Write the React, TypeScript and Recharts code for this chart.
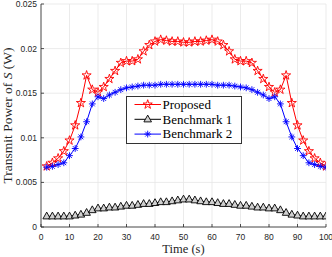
import React from 'react';
import { LineChart, Line, XAxis, YAxis, CartesianGrid } from 'recharts';

const times = [2,4,6,8,10,12,14,16,18,20,22,24,26,28,30,32,34,36,38,40,42,44,46,48,50,52,54,56,58,60,62,64,66,68,70,72,74,76,78,80,82,84,86,88,90,92,94,96,98,100];

const proposed = [0.0068,0.0072,0.0077,0.0085,0.0097,0.0114,0.0139,0.0170,0.0154,0.0151,0.0157,0.0166,0.0175,0.0184,0.0186,0.0186,0.0188,0.0197,0.0204,0.0208,0.0210,0.0209,0.0208,0.0208,0.0207,
0.0207,0.0208,0.0208,0.0209,0.0210,0.0208,0.0204,0.0197,0.0188,0.0186,0.0186,0.0184,0.0175,0.0166,0.0157,0.0151,0.0154,0.0170,0.0139,0.0114,0.0097,0.0085,0.0077,0.0072,0.0068];

const benchmark1 = [0.0012,0.0012,0.0012,0.0012,0.0012,0.0013,0.0014,0.0016,0.0019,0.0021,0.0021,0.0022,0.0022,0.0023,0.0024,0.0024,0.0025,0.0026,0.0026,0.0027,0.0028,0.0028,0.0029,0.0030,0.0031,
0.0031,0.0030,0.0029,0.0028,0.0028,0.0027,0.0026,0.0026,0.0025,0.0024,0.0024,0.0023,0.0022,0.0022,0.0021,0.0021,0.0019,0.0016,0.0014,0.0013,0.0012,0.0012,0.0012,0.0012,0.0012];

const benchmark2 = [0.0067,0.0068,0.0070,0.0072,0.0080,0.0088,0.0101,0.0118,0.0138,0.0146,0.0144,0.0148,0.0151,0.0154,0.0156,0.0157,0.0158,0.0159,0.0159,0.0159,0.0160,0.0160,0.0160,0.0160,0.0160,
0.0160,0.0160,0.0160,0.0160,0.0160,0.0159,0.0159,0.0159,0.0158,0.0157,0.0156,0.0154,0.0151,0.0148,0.0144,0.0146,0.0138,0.0118,0.0101,0.0088,0.0080,0.0072,0.0070,0.0068,0.0067];

const xTicks = [0,10,20,30,40,50,60,70,80,90,100];
const yTicks = [0,0.005,0.01,0.015,0.02,0.025];

const seriesNames = ['Proposed', 'Benchmark 1', 'Benchmark 2'];

const data = times.map((t, i) => ({ t, p: proposed[i], b1: benchmark1[i], b2: benchmark2[i] }));

const AXIS = '#262626';
const SERIF = 'Liberation Serif, Times New Roman, serif';
const SANS = 'Liberation Sans, Arial, sans-serif';

function starPath(cx: number, cy: number, R: number) {
  const r = R * 0.382;
  let d = '';
  for (let k = 0; k < 10; k++) {
    const rad = k % 2 === 0 ? R : r;
    const a = (-90 + k * 36) * Math.PI / 180;
    d += (k === 0 ? 'M' : 'L') + (cx + rad * Math.cos(a)).toFixed(2) + ',' + (cy + rad * Math.sin(a)).toFixed(2);
  }
  return d + 'Z';
}

const StarMark = ({ cx, cy }: any) => (
  <path d={starPath(cx, cy, 4.8)} fill="none" stroke="#ff0000" strokeWidth={0.9} />
);

const TriMark = ({ cx, cy }: any) => (
  <path d={`M${cx},${cy - 4.2}L${cx + 3.8},${cy + 2.6}L${cx - 3.8},${cy + 2.6}Z`} fill="#d0d0d0" stroke="#000" strokeWidth={0.9} />
);

const AstMark = ({ cx, cy }: any) => {
  const r = 3.4;
  const d = r * 0.7071;
  return (
    <g stroke="#0000ff" strokeWidth={0.9}>
      <line x1={cx - r} y1={cy} x2={cx + r} y2={cy} />
      <line x1={cx} y1={cy - r} x2={cx} y2={cy + r} />
      <line x1={cx - d} y1={cy - d} x2={cx + d} y2={cy + d} />
      <line x1={cx - d} y1={cy + d} x2={cx + d} y2={cy - d} />
    </g>
  );
};

const markFor: Record<string, any> = {
  'Proposed': { C: StarMark, color: '#ff0000' },
  'Benchmark 1': { C: TriMark, color: '#000000' },
  'Benchmark 2': { C: AstMark, color: '#0000ff' },
};

const LegendOverlay = () => (
  <svg width={118} height={50} style={{ position: 'absolute', left: 125, top: 95, display: 'block' }}>
    <rect x={1.5} y={1.5} width={115} height={47} fill="#ffffff" stroke="#333333" strokeWidth={1} />
    {seriesNames.map((name, i) => {
      const y = 9.5 + i * 14.8;
      const M = markFor[name].C;
      return (
        <g key={name}>
          <line x1={9.5} y1={y} x2={36} y2={y} stroke={markFor[name].color} strokeWidth={1} />
          <M cx={22.7} cy={y} />
          <text x={37.5} y={y + 4.3} fontFamily={SERIF} fontSize={13} fill="#000">{name}</text>
        </g>
      );
    })}
  </svg>
);

const xLabel = (props: any) => {
  const vb = props.viewBox;
  return (
    <text x={vb.x + vb.width / 2} y={vb.y + 26} textAnchor="middle" fontFamily={SERIF} fontSize={12.5} fill={AXIS}>Time (s)</text>
  );
};

const yLabel = (props: any) => {
  const vb = props.viewBox;
  const cx = vb.x + 12;
  const cy = vb.y + vb.height / 2;
  return (
    <text x={cx} y={cy} transform={`rotate(-90 ${cx} ${cy})`} textAnchor="middle" fontFamily={SERIF} fontSize={13.5} fill={AXIS}>
      Transmit Power of <tspan fontStyle="italic">S</tspan> (W)
    </text>
  );
};

const tickStyle = { fontSize: 8.5, fill: AXIS, fontFamily: SANS };

export default function App() {
  return (
    <div style={{ position: 'absolute', left: 0, top: 0, width: 332, height: 257, background: '#fff' }}>
      <LineChart width={332} height={257} data={data} margin={{ top: 4, right: 6, bottom: 0, left: 0 }}>
        <CartesianGrid stroke="#e6e6e6" strokeWidth={0.8} />
        <XAxis dataKey="t" type="number" domain={[0, 100]} ticks={xTicks} height={30} tickSize={-3} tickMargin={10}
          stroke={AXIS} strokeWidth={0.8} tick={tickStyle} interval={0} label={xLabel} allowDataOverflow />
        <XAxis xAxisId="top" orientation="top" type="number" domain={[0, 100]} ticks={xTicks} height={0} tickSize={-3}
          stroke={AXIS} strokeWidth={0.8} tick={false} interval={0} allowDataOverflow />
        <YAxis type="number" domain={[0, 0.025]} ticks={yTicks} width={41} tickSize={-3} tickMargin={7}
          stroke={AXIS} strokeWidth={0.8} tick={tickStyle} interval={0} label={yLabel} allowDataOverflow
          tickFormatter={(v: number) => String(v)} />
        <YAxis yAxisId="right" orientation="right" type="number" domain={[0, 0.025]} ticks={yTicks} width={0} tickSize={-3}
          stroke={AXIS} strokeWidth={0.8} tick={false} interval={0} allowDataOverflow />
        <Line dataKey="p" name={seriesNames[0]} stroke="#ff0000" strokeWidth={1} isAnimationActive={false}
          dot={(pr: any) => <StarMark key={`p${pr.index}`} cx={pr.cx} cy={pr.cy} />} />
        <Line dataKey="b1" name={seriesNames[1]} stroke="#000000" strokeWidth={1} isAnimationActive={false}
          dot={(pr: any) => <TriMark key={`b1${pr.index}`} cx={pr.cx} cy={pr.cy} />} />
        <Line dataKey="b2" name={seriesNames[2]} stroke="#0000ff" strokeWidth={1} isAnimationActive={false}
          dot={(pr: any) => <AstMark key={`b2${pr.index}`} cx={pr.cx} cy={pr.cy} />} />
      </LineChart>
      <LegendOverlay />
    </div>
  );
}
